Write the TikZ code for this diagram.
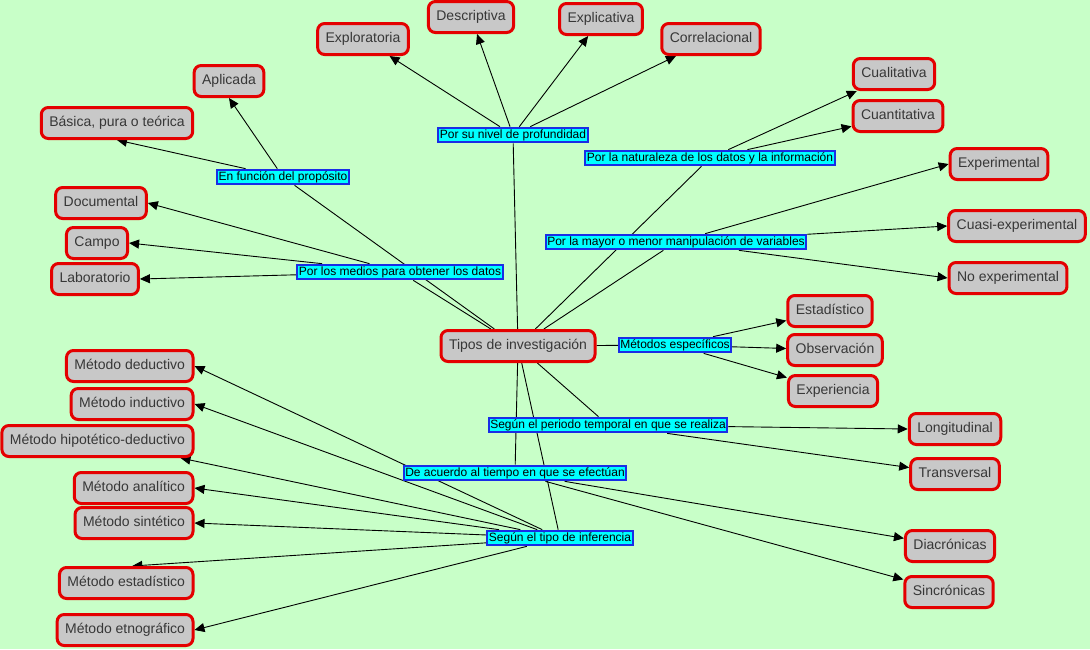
\documentclass[tikz,border=0pt]{standalone}
\usepackage{fontspec}
\setmainfont{Liberation Sans}
\usepackage{tikz}
\usetikzlibrary{arrows.meta,positioning}
\definecolor{bgc}{RGB}{200,255,200}
\definecolor{cfill}{RGB}{200,200,200}
\definecolor{cline}{RGB}{228,0,0}
\definecolor{ctext}{RGB}{55,55,55}
\definecolor{lfill}{RGB}{0,255,255}
\definecolor{lline}{RGB}{25,45,230}
\pgfdeclarelayer{back}
\pgfdeclarelayer{edges}
\pgfsetlayers{back,edges,main}

\begin{document}
\begin{tikzpicture}[x=1pt,y=-1pt,
  concept/.style={draw=cline,line width=3pt,fill=cfill,rounded corners=7pt,text=ctext,
    font=\fontsize{14}{16}\selectfont,text height=10pt,text depth=3pt,
    inner xsep=8pt,inner ysep=2pt,minimum height=31pt},
  link/.style={draw=lline,line width=2pt,fill=lfill,text=black,
    font=\fontsize{12}{14}\selectfont,text height=9pt,text depth=2.5pt,
    inner xsep=1.5pt,inner ysep=1.6pt},
  con/.style={black,line width=0.9pt},
  arr/.style={con,-{Triangle[length=10pt,width=9pt]}}]
  \useasboundingbox (0,0) rectangle (1090,649);
  \begin{pgfonlayer}{back}
    \fill[bgc] (0,0) rectangle (1090,649);
  \end{pgfonlayer}

  % centro
  \node[concept] (tipos) at (518,346) {Tipos de investigación};

  % profundidad
  \node[link] (prof) at (513,135) {Por su nivel de profundidad};
  \node[concept] (expl) at (363,39) {Exploratoria};
  \node[concept] (desc) at (471,17) {Descriptiva};
  \node[concept] (expc) at (601,19) {Explicativa};
  \node[concept] (corr) at (711,39) {Correlacional};

  % proposito
  \node[link] (prop) at (283,177) {En función del propósito};
  \node[concept] (apli) at (229,81) {Aplicada};
  \node[concept] (basi) at (117,123) {Básica, pura o teórica};

  % medios
  \node[link] (medi) at (400,272) {Por los medios para obtener los datos};
  \node[concept] (docu) at (101,203) {Documental};
  \node[concept] (camp) at (97,243) {Campo};
  \node[concept] (labo) at (95,279) {Laboratorio};

  % naturaleza
  \node[link] (natu) at (710,158) {Por la naturaleza de los datos y la información};
  \node[concept] (cual) at (894,74) {Cualitativa};
  \node[concept] (cuan) at (898,116) {Cuantitativa};

  % manipulacion
  \node[link] (mani) at (676,242) {Por la mayor o menor manipulación de variables};
  \node[concept] (expe) at (999,164) {Experimental};
  \node[concept] (cuas) at (1017,226) {Cuasi-experimental};
  \node[concept] (noex) at (1008,278) {No experimental};

  % metodos especificos
  \node[link] (mesp) at (675,345) {Métodos específicos};
  \node[concept] (esta) at (830,311) {Estadístico};
  \node[concept] (obse) at (835,350) {Observación};
  \node[concept] (expa) at (833,391) {Experiencia};

  % periodo
  \node[link] (peri) at (608,425) {Según el periodo temporal en que se realiza};
  \node[concept] (long) at (955,429) {Longitudinal};
  \node[concept] (tran) at (955,474) {Transversal};

  % tiempo
  \node[link] (tiem) at (515,473) {De acuerdo al tiempo en que se efectúan};
  \node[concept] (diac) at (950,546) {Diacrónicas};
  \node[concept] (sinc) at (949,592) {Sincrónicas};

  % inferencia
  \node[link] (infe) at (560,538) {Según el tipo de inferencia};
  \node[concept,anchor=east] (mded) at (194.5,366) {Método deductivo};
  \node[concept,anchor=east] (mind) at (194.5,404) {Método inductivo};
  \node[concept,anchor=east] (mhip) at (194.5,441) {Método hipotético-deductivo};
  \node[concept,anchor=east] (mana) at (194.5,488) {Método analítico};
  \node[concept,anchor=east] (msin) at (194.5,523) {Método sintético};
  \node[concept,anchor=east] (mest) at (194.5,583) {Método estadístico};
  \node[concept,anchor=east] (metn) at (194.5,630) {Método etnográfico};

  \begin{pgfonlayer}{edges}
    \draw[con] (tipos) -- (prof);
    \draw[arr] (prof) -- (expl);
    \draw[arr] (prof) -- (desc);
    \draw[arr] (prof) -- (expc);
    \draw[arr] (prof) -- (corr);
    \draw[con] (tipos) -- (prop);
    \draw[arr] (prop) -- (apli.south);
    \draw[arr] (prop) -- (basi.south);
    \draw[con] (tipos) -- (medi);
    \draw[arr] (medi) -- (docu.east);
    \draw[arr] (medi) -- (camp.east);
    \draw[arr] (medi) -- (labo.east);
    \draw[con] (tipos) -- (natu);
    \draw[arr] (natu) -- (cual);
    \draw[arr] (natu) -- (cuan);
    \draw[con] (tipos) -- (mani);
    \draw[arr] (mani) -- (expe.west);
    \draw[arr] (mani) -- (cuas.west);
    \draw[arr] (mani) -- (noex.west);
    \draw[con] (tipos) -- (mesp);
    \draw[arr] (mesp) -- (esta);
    \draw[arr] (mesp) -- (obse);
    \draw[arr] (mesp) -- (expa);
    \draw[con] (tipos) -- (peri);
    \draw[arr] (peri) -- (long.west);
    \draw[arr] (peri) -- (tran);
    \draw[con] (tipos) -- (tiem);
    \draw[arr] (tiem) -- (diac);
    \draw[arr] (tiem) -- (sinc);
    \draw[con] (tipos) -- (infe);
    \draw[arr] (infe) -- (mded.east);
    \draw[arr] (infe) -- (mind.east);
    \draw[arr] (infe) -- ([xshift=-14pt]mhip.south east);
    \draw[arr] (infe) -- (mana.east);
    \draw[arr] (infe) -- (msin.east);
    \draw[arr] (infe) -- ([xshift=6pt]mest.north);
    \draw[arr] (infe) -- (metn.east);
  \end{pgfonlayer}
\end{tikzpicture}
\end{document}
